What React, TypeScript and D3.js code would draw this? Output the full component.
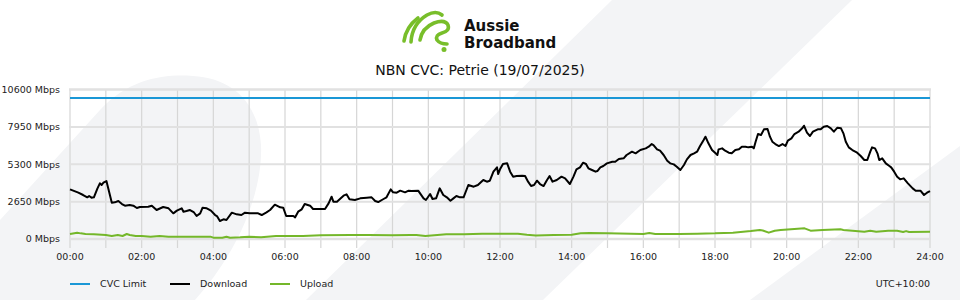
import React from "react";
import * as d3 from "d3";

// ---------- data ----------
const yTickValues = [0, 2650, 5300, 7950, 10600];
const hourGrid = d3.range(0, 25);
const xLabelHours = [0, 2, 4, 6, 8, 10, 12, 14, 16, 18, 20, 22, 24];
const cvcLimitMbps = 10000;

// [minute of day, Mbps]
const downloadSeries: [number, number][] = [
  [0, 3521], [14, 3285], [22, 3119], [29, 2954], [32, 3048], [36, 2930], [40, 2954], [46, 3592], [50, 3946], [53, 3828],
  [56, 3993], [61, 4112], [70, 2576], [75, 2599], [81, 2694], [87, 2481], [92, 2363], [100, 2410], [106, 2363], [112, 2198],
  [117, 2268], [131, 2292], [137, 2363], [145, 2056], [156, 2268], [165, 2174], [173, 1820], [179, 2009], [187, 2174], [190, 1938],
  [195, 1985], [201, 2056], [207, 1914], [212, 1630], [218, 1820], [222, 2221], [229, 2174], [236, 2009], [243, 1701], [246, 1630],
  [251, 1276], [257, 1394], [262, 1347], [271, 1867], [279, 1749], [287, 1701], [293, 1867], [301, 1820], [315, 1820], [321, 1701],
  [329, 1890], [335, 2056], [343, 2434], [352, 2245], [357, 2221], [362, 1630], [374, 1630], [377, 1536], [382, 1938], [388, 2103],
  [393, 2481], [402, 2363], [407, 2127], [427, 2127], [433, 2528], [438, 3001], [441, 2647], [447, 2647], [452, 2836], [458, 3072],
  [463, 3166], [468, 2812], [477, 2765], [486, 2883], [497, 2930], [505, 2954], [511, 2694], [516, 2623], [525, 2836], [530, 2954],
  [537, 3521], [541, 3308], [547, 3285], [553, 3426], [561, 3308], [567, 3426], [572, 3403], [583, 3426], [592, 2883], [596, 2765],
  [603, 3190], [607, 2836], [613, 2883], [619, 3592], [625, 3119], [631, 2954], [637, 2717], [642, 2883], [647, 3048], [653, 2954],
  [659, 2954], [667, 3828], [676, 3710], [683, 3828], [692, 4183], [698, 4064], [703, 4135], [709, 4773], [715, 5080], [717, 4608],
  [720, 4939], [725, 5317], [732, 5364], [737, 4773], [742, 4419], [748, 4466], [757, 4490], [762, 4466], [767, 4064], [772, 3757],
  [777, 3828], [782, 4135], [787, 3899], [793, 3757], [798, 4135], [803, 4466], [808, 4064], [815, 4183], [823, 4419], [829, 4301],
  [837, 3899], [843, 4419], [848, 4939], [854, 5080], [859, 5411], [864, 5317], [868, 5010], [874, 4891], [880, 4773], [883, 4820],
  [888, 5080], [893, 5175], [899, 5364], [908, 5482], [913, 5482], [919, 5671], [927, 5718], [932, 5955], [941, 6191], [947, 6073],
  [955, 6309], [964, 6427], [969, 6546], [974, 6735], [977, 6664], [983, 6356], [988, 6262], [994, 5955], [1000, 5553], [1005, 5364],
  [1011, 5293], [1016, 5127], [1022, 4891], [1028, 5246], [1033, 5648], [1039, 5955], [1045, 6073], [1050, 6191], [1055, 6593], [1061, 7018],
  [1064, 7254], [1069, 6782], [1075, 6309], [1081, 6073], [1084, 5955], [1086, 6356], [1092, 6427], [1097, 6262], [1103, 6120], [1108, 6073],
  [1114, 6309], [1120, 6356], [1125, 6546], [1131, 6546], [1136, 6498], [1142, 6546], [1145, 6427], [1148, 6900], [1152, 7443], [1157, 7373],
  [1162, 7774], [1168, 7798], [1172, 7254], [1176, 6900], [1181, 6735], [1187, 6593], [1193, 6735], [1198, 6593], [1202, 6971], [1208, 7136],
  [1213, 7443], [1220, 7609], [1226, 7845], [1229, 8034], [1234, 7538], [1239, 7302], [1244, 7609], [1252, 7774], [1257, 7774], [1262, 7963],
  [1268, 8011], [1274, 7845], [1279, 7609], [1285, 7893], [1291, 7845], [1295, 7491], [1299, 6900], [1304, 6498], [1310, 6309], [1318, 6120],
  [1324, 5884], [1330, 5600], [1335, 5600], [1340, 6191], [1343, 6498], [1348, 6427], [1352, 6073], [1355, 5600], [1360, 5718], [1366, 5364],
  [1372, 5175], [1375, 5080], [1380, 4773], [1385, 4419], [1390, 4230], [1396, 4301], [1403, 3946], [1411, 3592], [1416, 3426], [1424, 3426],
  [1430, 3119], [1435, 3285], [1440, 3403],
];

const uploadSeries: [number, number][] = [
  [0, 354], [12, 449], [18, 400], [26, 354], [40, 330], [60, 284], [70, 213], [80, 284], [88, 213], [95, 354],
  [100, 284], [110, 213], [120, 213], [135, 165], [150, 213], [165, 165], [180, 165], [210, 165], [235, 165], [240, 94],
  [255, 94], [262, 165], [268, 94], [285, 118], [300, 165], [320, 118], [345, 213], [370, 213], [390, 213], [420, 260],
  [470, 284], [500, 284], [540, 260], [570, 284], [580, 284], [595, 213], [605, 240], [630, 330], [660, 330], [690, 380],
  [720, 380], [750, 380], [765, 300], [780, 240], [795, 260], [810, 280], [840, 300], [855, 400], [870, 430], [900, 400],
  [960, 354], [970, 420], [980, 354], [1020, 354], [1050, 380], [1080, 400], [1110, 450], [1140, 560], [1155, 640], [1160, 600],
  [1170, 449], [1180, 590], [1190, 638], [1230, 756], [1240, 590], [1260, 638], [1290, 685], [1295, 638], [1310, 590], [1330, 520],
  [1340, 590], [1350, 520], [1370, 590], [1385, 590], [1395, 496], [1400, 560], [1405, 496], [1440, 520],
];

const legendLabels = ["CVC Limit", "Download", "Upload"];
const titleText = "NBN CVC: Petrie (19/07/2025)";
const timezoneText = "UTC+10:00";
const brandLines = ["Aussie", "Broadband"];

// ---------- styles ----------
const COLORS = { cvc: "#1a97d6", download: "#000000", upload: "#74b72a", bg: "#f3f4f6", logo: "#78be2a" };
const FONT = "'DejaVu Sans', sans-serif";

export default function App() {
  const W = 960, H = 300;
  const x = d3.scaleLinear().domain([0, 1440]).range([70, 930]);
  const y = d3.scaleLinear().domain([0, 10600]).range([239, 89.5]);
  const line = d3.line<[number, number]>().x((d) => x(d[0])).y((d) => y(d[1])).curve(d3.curveLinear);

  const legendColors = [COLORS.cvc, COLORS.download, COLORS.upload];

  return (
    <svg width={W} height={H} style={{ position: "absolute", left: 0, top: 0, display: "block", background: "#fff" }}>
      <defs>
        <clipPath id="full"><rect x={0} y={0} width={W} height={H} /></clipPath>
      </defs>
      {/* background watermark shapes */}
      <g clipPath="url(#full)" fill={COLORS.bg}>
        <path d="M0,220 L100,110 C130,78 165,74 193,76 C230,78 258,100 261,145 C263,190 240,250 195,300 L0,300 Z" />
        <path d="M306,300 L612,0 L852,0 L543,300 Z" />
        <path d="M750,300 L1159,0 L1200,0 L1200,300 Z" />
      </g>

      {/* logo */}
      <g fill="none" stroke={COLORS.logo} strokeWidth={3.6} strokeLinecap="round" strokeLinejoin="round">
        <path d="M404,41 Q406,27 418,18" />
        <path d="M411,42 Q412,24 427,15 Q436,10 442,15" />
        <path d="M420,40 Q422,28 434,23 Q445,19 448,25 Q450,31 442,33 Q435,35 437,40 Q440,44 447,44" />
      </g>
      <circle cx={444} cy={49.5} r={2.5} fill={COLORS.logo} />
      <g fontFamily="'DejaVu Sans', sans-serif" fontWeight={700} fontSize={15} fill="#111">
        <text x={464} y={30.5}>{brandLines[0]}</text>
        <text x={464} y={48}>{brandLines[1]}</text>
      </g>

      {/* title */}
      <text x={480} y={75} textAnchor="middle" fontFamily={FONT} fontSize={14} fill="#111">{titleText}</text>

      {/* grid */}
      <g>
        {hourGrid.map((h) => (
          <line key={"v" + h} x1={x(h * 60)} x2={x(h * 60)} y1={89.5} y2={248} stroke="#d6d6d6" strokeWidth={1.2} />
        ))}
        {yTickValues.map((v) => (
          <line key={"h" + v} x1={69} x2={931} y1={y(v)} y2={y(v)} stroke="#e1e1e1" strokeWidth={v === 0 || v === 10600 ? 2.5 : 2} />
        ))}
      </g>

      {/* y labels */}
      <g fontFamily={FONT} fontSize={9.5} fill="#222" textAnchor="end">
        {yTickValues.map((v) => (
          <text key={"yl" + v} x={60} y={y(v)} dy="0.35em">{`${v} Mbps`}</text>
        ))}
      </g>

      {/* x labels */}
      <g fontFamily={FONT} fontSize={9.5} fill="#222" textAnchor="middle">
        {xLabelHours.map((h) => (
          <text key={"xl" + h} x={x(h * 60)} y={259.5}>{`${String(h).padStart(2, "0")}:00`}</text>
        ))}
      </g>

      {/* series */}
      <line x1={x(0)} x2={x(1440)} y1={y(cvcLimitMbps)} y2={y(cvcLimitMbps)} stroke={COLORS.cvc} strokeWidth={2} />
      <path d={line(uploadSeries) || ""} fill="none" stroke={COLORS.upload} strokeWidth={2} strokeLinejoin="round" />
      <path d={line(downloadSeries) || ""} fill="none" stroke={COLORS.download} strokeWidth={2} strokeLinejoin="round" />

      {/* legend */}
      <g fontFamily={FONT} fontSize={9.5} fill="#222">
        {legendLabels.map((label, i) => (
          <g key={label} transform={`translate(${70 + i * 100},284)`}>
            <line x1={0} x2={20} y1={0} y2={0} stroke={legendColors[i]} strokeWidth={2} />
            <text x={30} y={0} dy="0.35em">{label}</text>
          </g>
        ))}
        <text x={930} y={284} dy="0.35em" textAnchor="end">{timezoneText}</text>
      </g>
    </svg>
  );
}
